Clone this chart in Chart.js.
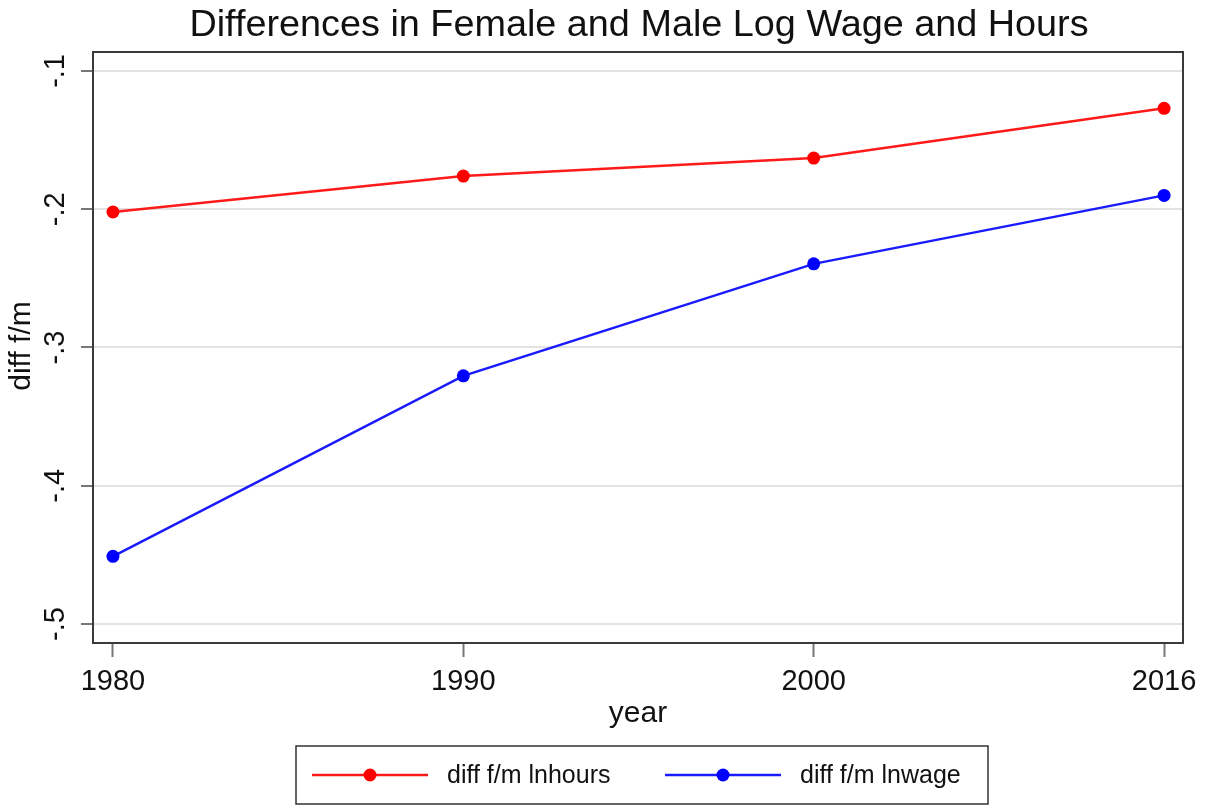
<!DOCTYPE html>
<html>
<head>
<meta charset="utf-8">
<script src="https://cdn.jsdelivr.net/npm/chart.js@4"></script>
<style>
  body { margin: 0; background: #fff; }
  #wrap { width: 1210px; height: 806px; }
</style>
</head>
<body>
<div id="wrap"><canvas id="myLineChart" width="1210" height="806"></canvas></div>
<script>
var years = ['1980', '1990', '2000', '2016'];
var lnhours = [-0.202, -0.176, -0.163, -0.127];
var lnwage = [-0.451, -0.3205, -0.2395, -0.190];
var yTicks = [-0.5, -0.4, -0.3, -0.2, -0.1];

var FONT = "'Liberation Sans', Arial, sans-serif";

function toPoints(arr) {
  return arr.map(function (v, i) { return { x: i, y: v }; });
}

// titulo, marco, titulos de ejes y leyenda al estilo Stata
var extras = {
  id: 'extras',
  afterDraw: function (chart) {
    var c = chart.ctx;
    var a = chart.chartArea;
    c.save();
    // marco
    c.strokeStyle = '#3a3a3a';
    c.lineWidth = 2;
    c.strokeRect(a.left, a.top, a.right - a.left, a.bottom - a.top);

    c.fillStyle = '#111';
    c.textAlign = 'center';
    c.textBaseline = 'middle';
    c.font = '37.8px ' + FONT;
    c.fillText('Differences in Female and Male Log Wage and Hours', 639, 26);

    c.font = '30px ' + FONT;
    c.fillText('year', (a.left + a.right) / 2, 714);
    c.save();
    c.translate(22, 346);
    c.rotate(-Math.PI / 2);
    c.fillText('diff f/m', 0, 0);
    c.restore();

    // leyenda
    c.strokeStyle = '#333';
    c.lineWidth = 1.5;
    c.strokeRect(296, 746, 692, 58);
    var items = [
      { x: 312, ds: chart.data.datasets[0] },
      { x: 665, ds: chart.data.datasets[1] }
    ];
    c.font = '25px ' + FONT;
    c.textAlign = 'left';
    items.forEach(function (it) {
      var y = 775;
      c.strokeStyle = it.ds.borderColor;
      c.lineWidth = 2.5;
      c.beginPath();
      c.moveTo(it.x, y);
      c.lineTo(it.x + 116, y);
      c.stroke();
      c.fillStyle = it.ds.pointBackgroundColor;
      c.beginPath();
      c.arc(it.x + 58, y, 6.5, 0, Math.PI * 2);
      c.fill();
      c.fillStyle = '#111';
      c.fillText(it.ds.label, it.x + 135, y + 1);
    });
    c.restore();
  }
};

var ctx = document.getElementById('myLineChart').getContext('2d');
var myLineChart = new Chart(ctx, {
  type: 'line',
  data: {
    datasets: [{
        label: 'diff f/m lnhours',
        data: toPoints(lnhours),
        borderColor: '#ff1a1a',
        backgroundColor: '#ff0000',
        pointBackgroundColor: '#ff0000',
        pointBorderWidth: 0,
        pointRadius: 6.5,
        borderWidth: 2.5,
        fill: false,
        tension: 0
      },
      {
        label: 'diff f/m lnwage',
        data: toPoints(lnwage),
        borderColor: '#1a1aff',
        backgroundColor: '#0000ff',
        pointBackgroundColor: '#0000ff',
        pointBorderWidth: 0,
        pointRadius: 6.5,
        borderWidth: 2.5,
        fill: false,
        tension: 0
      }
    ]
  },
  options: {
    responsive: false,
    animation: false,
    layout: {
      padding: { top: 52, right: 27, left: 0, bottom: 0 }
    },
    plugins: {
      legend: { display: false },
      title: { display: false },
      tooltip: { enabled: false }
    },
    scales: {
      x: {
        type: 'linear',
        min: -0.057,
        max: 3.054,
        afterBuildTicks: function (scale) {
          scale.ticks = years.map(function (y, i) { return { value: i }; });
        },
        afterFit: function (scale) { scale.height = 163; },
        grid: {
          drawOnChartArea: false,
          tickLength: 14,
          tickColor: '#777',
          tickWidth: 2
        },
        border: { color: '#3a3a3a', width: 2 },
        ticks: {
          padding: 8,
          color: '#111',
          maxRotation: 0,
          font: { family: FONT, size: 29 },
          callback: function (v) { return years[v]; }
        }
      },
      y: {
        type: 'linear',
        min: -0.5137,
        max: -0.0863,
        afterBuildTicks: function (scale) {
          scale.ticks = yTicks.map(function (v) { return { value: v }; });
        },
        afterFit: function (scale) { scale.width = 93; },
        grid: {
          color: '#e2e2e2',
          lineWidth: 2,
          tickLength: 12,
          tickColor: '#777',
          tickWidth: 2
        },
        border: { color: '#3a3a3a', width: 2 },
        ticks: {
          padding: 8,
          color: '#111',
          minRotation: 90,
          maxRotation: 90,
          crossAlign: 'center',
          font: { family: FONT, size: 29 },
          callback: function (v) {
            return String(Math.round(v * 10) / 10).replace('0.', '.');
          }
        }
      }
    }
  },
  plugins: [extras]
});
</script>
</body>
</html>
